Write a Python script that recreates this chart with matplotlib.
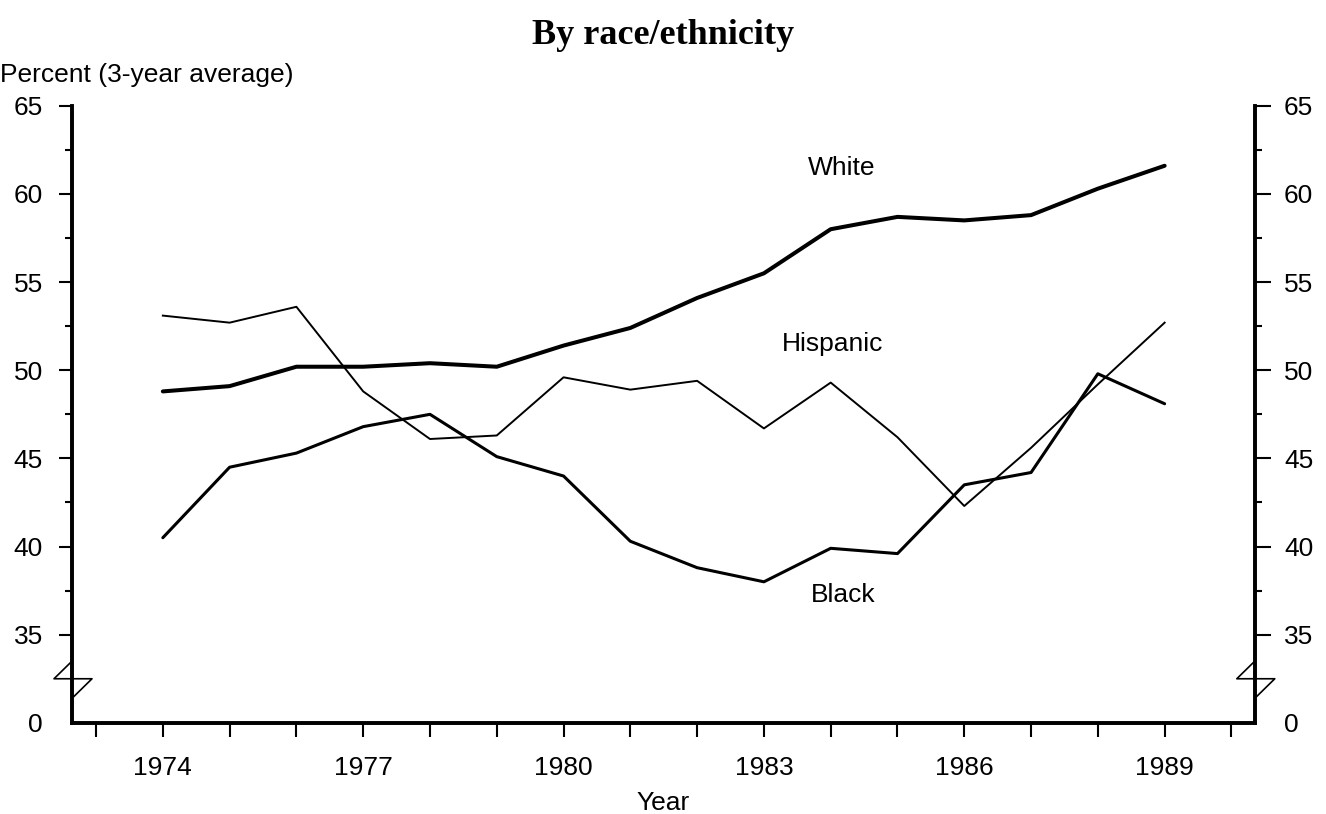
import numpy as np
import matplotlib.pyplot as plt

plt.rcParams['font.family'] = ['Liberation Sans', 'DejaVu Sans']

years = list(range(1974, 1990))
white = [48.8, 49.1, 50.2, 50.2, 50.4, 50.2, 51.4, 52.4, 54.1, 55.5, 58.0, 58.7, 58.5, 58.8, 60.3, 61.6]
hispanic = [53.1, 52.7, 53.6, 48.8, 46.1, 46.3, 49.6, 48.9, 49.4, 46.7, 49.3, 46.2, 42.3, 45.6, 49.2, 52.7]
black = [40.5, 44.5, 45.3, 46.8, 47.5, 45.1, 44.0, 40.3, 38.8, 38.0, 39.9, 39.6, 43.5, 44.2, 49.8, 48.1]

# the "0" tick sits where 30 would be (broken axis)
ytick_vals = [30, 35, 40, 45, 50, 55, 60, 65]
ytick_labels = ['0', '35', '40', '45', '50', '55', '60', '65']
xtick_labels = [1974, 1977, 1980, 1983, 1986, 1989]

fig = plt.figure(figsize=(13.26, 8.14), dpi=100)
ax = fig.add_axes([0.0543, 0.112, 0.892, 0.758])

ax.plot(years, white, color='black', lw=2.9, solid_capstyle='round')
ax.plot(years, black, color='black', lw=2.2, solid_capstyle='round')
ax.plot(years, hispanic, color='black', lw=1.4)

ax.set_xlim(1972.64, 1990.35)
ax.set_ylim(30, 65)

for s in ['left', 'right', 'bottom']:
    ax.spines[s].set_linewidth(2.6)
ax.spines['top'].set_visible(False)

ax.set_xticks(range(1973, 1991))
ax.set_xticklabels([str(y) if y in xtick_labels else '' for y in range(1973, 1991)])
ax.tick_params(axis='x', direction='out', length=10, width=1.5, pad=14, labelsize=19)

ax.set_yticks(ytick_vals)
ax.set_yticklabels(ytick_labels)
ax.set_yticks(np.arange(37.5, 65, 5), minor=True)
ax.tick_params(axis='y', which='major', direction='out', length=9.5, width=1.5,
               labelsize=19, pad=11.5)
ax.tick_params(axis='y', which='minor', direction='out', length=5, width=1.5)

# right-hand axis, same scale
ax2 = ax.twinx()
ax2.set_ylim(ax.get_ylim())
ax2.set_yticks(ytick_vals)
ax2.set_yticklabels(ytick_labels)
ax2.set_yticks(np.arange(37.5, 65, 5), minor=True)
ax2.tick_params(axis='y', which='major', direction='out', length=11.5, width=1.5,
                labelsize=19, pad=9.5)
ax2.tick_params(axis='y', which='minor', direction='out', length=5, width=1.5)
for a in [ax, ax2]:
    for s in ['left', 'right', 'bottom']:
        a.spines[s].set_linewidth(2.6)
    a.spines['top'].set_visible(False)
    for t in a.yaxis.get_major_ticks()[:1]:
        t.tick1line.set_visible(False)
        t.tick2line.set_visible(False)

# axis break marks
w = 1183.0
for x0 in [0.0, 1.0]:
    ax.plot([x0, x0 - 18 / w, x0 + 20 / w, x0 + 2 / w], [33.5, 32.5, 32.5, 31.5],
            color='black', lw=1.2, transform=ax.get_yaxis_transform(), clip_on=False)

ax.text(1984.16, 61.5, 'White', fontsize=19, ha='center', va='center')
ax.text(1984.03, 51.5, 'Hispanic', fontsize=19, ha='center', va='center')
ax.text(1984.18, 37.25, 'Black', fontsize=19, ha='center', va='center')

ax.set_xlabel('Year', fontsize=19, labelpad=8)
fig.text(0.5, 1 - 35 / 814, 'By race/ethnicity', fontsize=26, fontweight='bold',
         family='Liberation Serif', ha='center', va='center')
fig.text(0.0, 1 - 75 / 814, 'Percent (3-year average)', fontsize=19, ha='left', va='center')

plt.savefig('out.png', dpi=100)
